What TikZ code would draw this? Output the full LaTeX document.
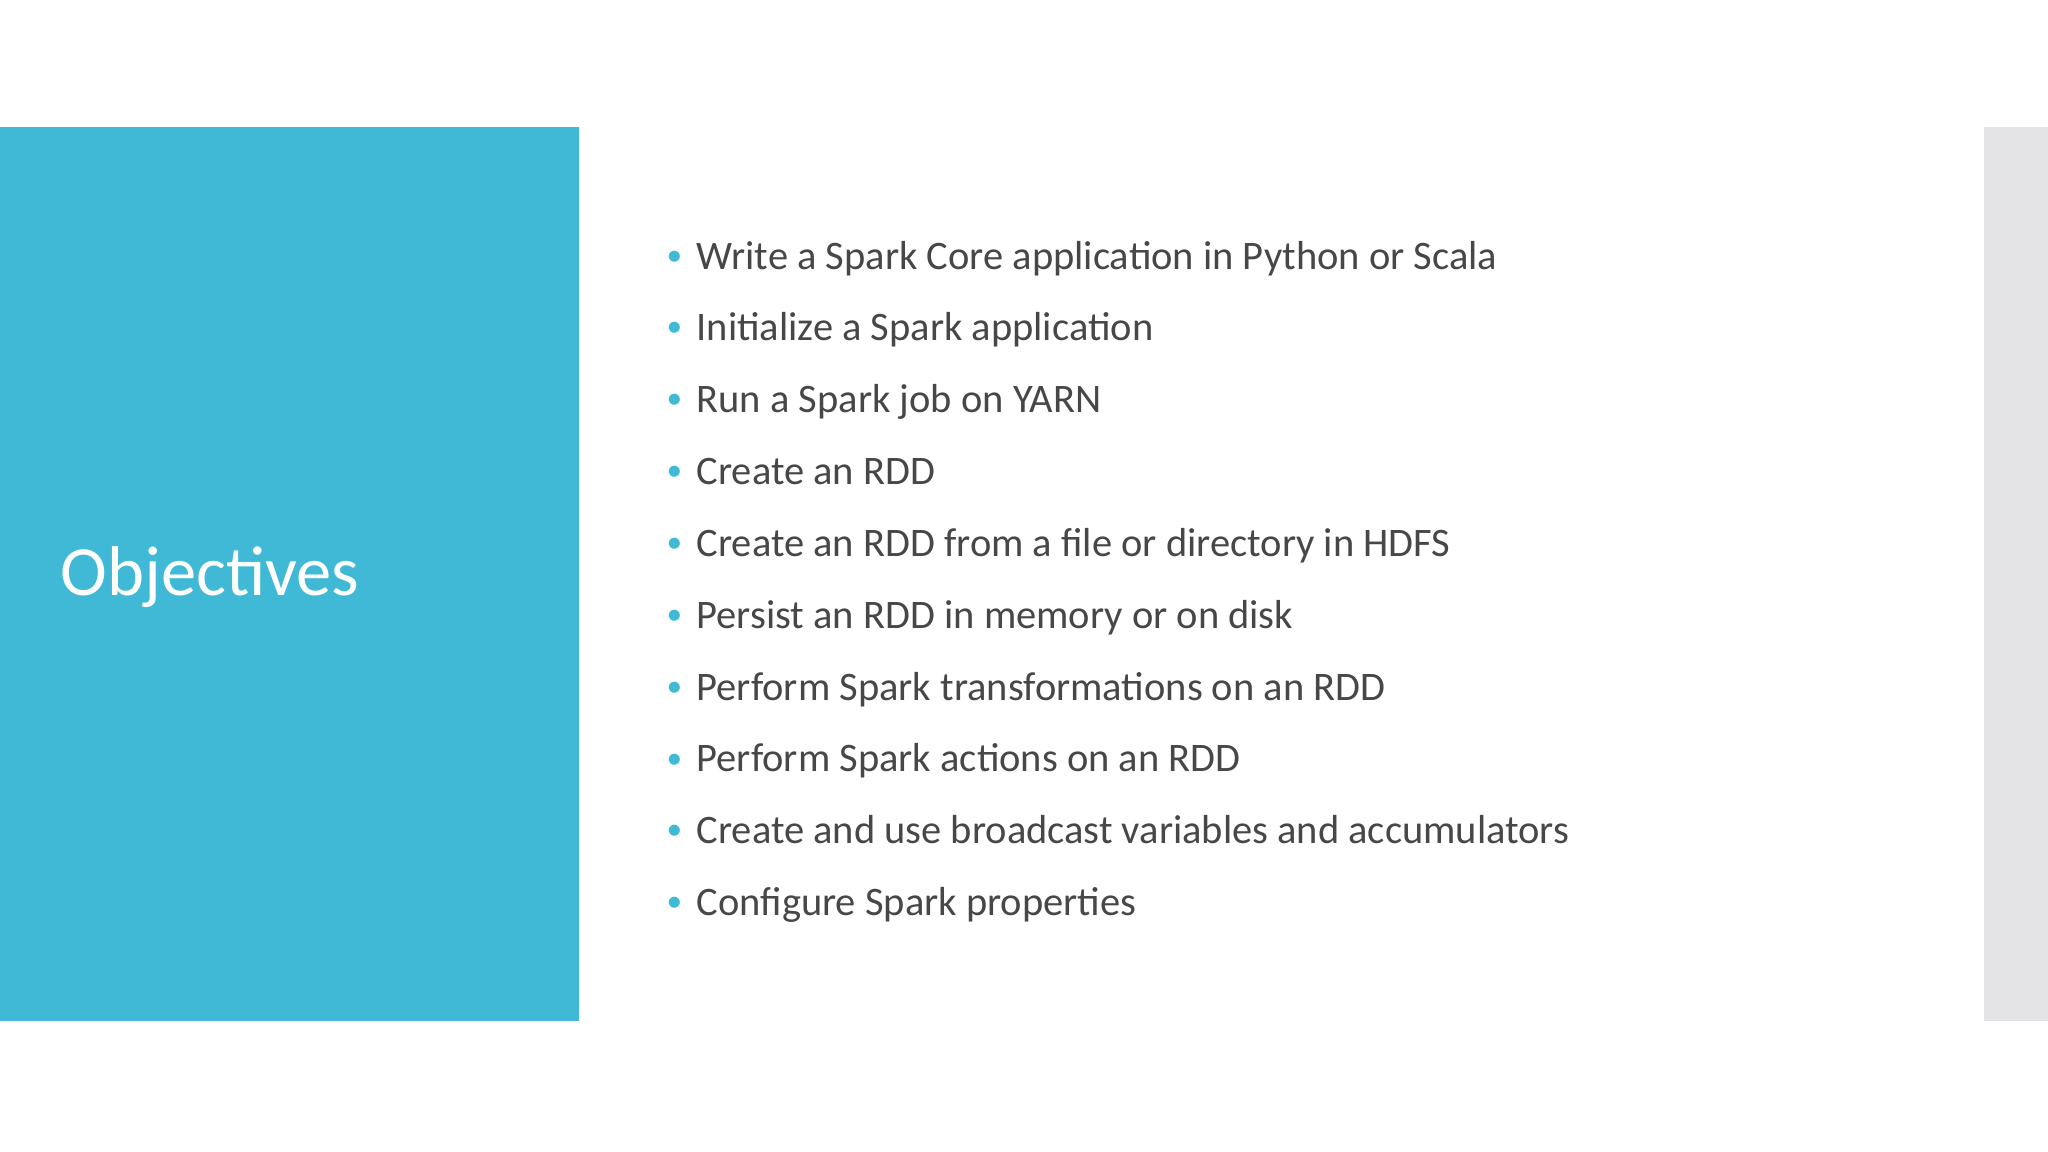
\documentclass[tikz,border=0pt]{standalone}
\usepackage{fontspec}
\setmainfont{Carlito}
\definecolor{blu}{HTML}{3FB9D6}
\definecolor{gry}{HTML}{E4E4E6}
\definecolor{txt}{HTML}{474747}
\begin{document}
\begin{tikzpicture}[x=0.5pt,y=-0.5pt,
  item/.style={anchor=base west,inner sep=0pt,text=txt,font=\fontsize{15.5}{18}\selectfont},
  dot/.style={anchor=base west,inner sep=0pt,text=blu,font=\fontsize{12}{14}\selectfont}]
\useasboundingbox (0,0) rectangle (1568,882);
\fill[white] (0,0) rectangle (1568,882);
\fill[blu] (0,97) rectangle (443,782);
\fill[gry] (1519,97) rectangle (1568,782);
\node[anchor=base west,inner sep=0pt,text=white,font=\fontsize{27}{30}\selectfont] (title) at (46,456) {Objectives};
\foreach \t [count=\i] in {Write a Spark Core application in Python or Scala,Initialize a Spark application,Run a Spark job on YARN,Create an RDD,Create an RDD from a file or directory in HDFS,Persist an RDD in memory or on disk,Perform Spark transformations on an RDD,Perform Spark actions on an RDD,Create and use broadcast variables and accumulators,Configure Spark properties}{
  \node[dot] (d\i) at (510,{148+55*\i}) {•};
  \node[item] (t\i) at (533,{148+55*\i+3}) {\t};
}
\end{tikzpicture}
\end{document}
